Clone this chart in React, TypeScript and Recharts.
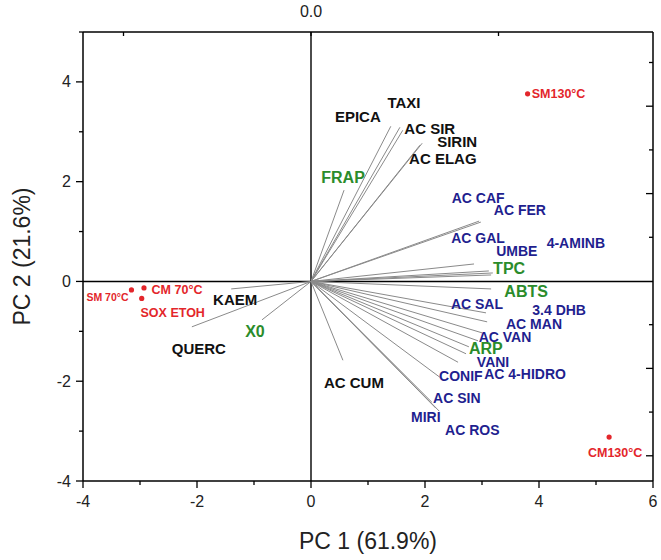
import React from 'react';
import { ScatterChart, Scatter, XAxis, YAxis, ReferenceLine, Label } from 'recharts';

const FONT = '"Liberation Sans", Arial, Helvetica, sans-serif';

// ---------- DATA ----------
// Variable loadings (drawn in PC1/PC2 units of the biplot)
const loadingNames = [
  'EPICA', 'TAXI', 'AC SIR', 'SIRIN', 'AC ELAG', 'FRAP', 'AC CAF', 'AC FER', 'AC GAL', 'UMBE',
  '4-AMINB', 'TPC', 'ABTS', 'AC SAL', '3.4 DHB', 'AC MAN', 'AC VAN', 'ARP', 'VANI', 'AC 4-HIDRO',
  'CONIF', 'AC SIN', 'MIRI', 'AC ROS', 'AC CUM', 'KAEM', 'QUERC', 'X0',
];
const loadingPC1 = [
  1.40, 1.56, 1.61, 1.95, 1.91, 0.58, 2.95, 2.98, 2.86, 3.12,
  3.19, 3.16, 3.16, 3.07, 3.09, 3.00, 2.93, 2.77, 2.72, 2.58,
  2.26, 2.12, 2.19, 2.25, 0.56, -1.40, -2.09, -0.86,
];
const loadingPC2 = [
  3.11, 3.09, 3.03, 2.77, 2.73, 1.83, 1.21, 1.19, 0.35, 0.21,
  0.17, 0.13, -0.15, -0.63, -0.81, -1.03, -1.19, -1.31, -1.45, -1.62,
  -1.92, -2.42, -2.54, -2.60, -1.58, -0.15, -0.91, -0.77,
];
const loadingGroup = [
  'flavonoid', 'flavonoid', 'flavonoid', 'flavonoid', 'flavonoid', 'assay', 'acid', 'acid', 'acid', 'acid',
  'acid', 'assay', 'assay', 'acid', 'acid', 'acid', 'acid', 'assay', 'acid', 'acid',
  'acid', 'acid', 'acid', 'acid', 'flavonoid', 'flavonoid', 'flavonoid', 'assay',
];

// Sample scores
const sampleNames = ['SM 70°C', 'CM 70°C', 'SOX ETOH', 'SM130°C', 'CM130°C'];
const samplePC1 = [-3.15, -2.93, -2.97, 3.80, 5.23];
const samplePC2 = [-0.17, -0.13, -0.34, 3.76, -3.12];

// Axis ticks
const xTicks = [-4, -3, -2, -1, 0, 1, 2, 3, 4, 5, 6];
const yTicks = [-4, -3, -2, -1, 0, 1, 2, 3, 4, 5];
const topTicks = [-1, 0, 1];
const rightTicks = [-4, -3, -2, -1, 0, 1, 2, 3, 4, 5];
const secondaryAnchor = [{ x: 0, y: 0 }];

// ---------- LAYOUT / STYLE (label placement offsets in px) ----------
const loadingLabelOffset: Record<string, [number, number]> = {
  'EPICA': [-33, -10], 'TAXI': [4, -25], 'AC SIR': [27, -2], 'SIRIN': [35, -2], 'AC ELAG': [23, 14],
  'FRAP': [-1, -13], 'AC CAF': [-1, -23], 'AC FER': [39, -12], 'AC GAL': [4, -26], 'UMBE': [28, -20],
  '4-AMINB': [83, -30], 'TPC': [18, -7], 'ABTS': [35, 2], 'AC SAL': [-9, -9], '3.4 DHB': [72, -12],
  'AC MAN': [52, -9], 'AC VAN': [27, -4], 'ARP': [17, 2], 'VANI': [27, 8], 'AC 4-HIDRO': [67, 12],
  'CONIF': [21, -1], 'AC SIN': [25, -4], 'MIRI': [-10, 9], 'AC ROS': [33, 19], 'AC CUM': [11, 22],
  'KAEM': [4, 11], 'QUERC': [7, 22], 'X0': [-7, 12],
};
const sampleLabelOffset: Record<string, [number, number, number]> = {
  'SM 70°C': [-24, 7, 10.5], 'CM 70°C': [33, 2, 12.5], 'SOX ETOH': [31, 14, 12.5],
  'SM130°C': [31, 0, 12.5], 'CM130°C': [6, 16, 12.5],
};
const groupStyle: Record<string, { color: string; size: number }> = {
  flavonoid: { color: '#111111', size: 15 },
  acid: { color: '#1f1f8f', size: 14 },
  assay: { color: '#2b8c2b', size: 16 },
};

const loadings = loadingNames.map((name, i) => ({
  name, x: loadingPC1[i], y: loadingPC2[i], group: loadingGroup[i],
}));
const samples = sampleNames.map((name, i) => ({ name, x: samplePC1[i], y: samplePC2[i] }));

// ---------- CUSTOM RENDERERS ----------
const XTick = (props: any) => {
  const { x, y, payload } = props;
  const v = payload.value;
  const major = v % 2 === 0;
  return (
    <g>
      <line x1={x} x2={x} y1={y} y2={y + (major ? 7 : 4)} stroke="#000" strokeWidth={1.3} />
      {major && (
        <text x={x} y={y + 26} textAnchor="middle" fontSize={16} fill="#222" fontFamily={FONT}>{v}</text>
      )}
    </g>
  );
};
const YTick = (props: any) => {
  const { x, y, payload } = props;
  const v = payload.value;
  const major = v % 2 === 0;
  return (
    <g>
      <line x1={x - (major ? 7 : 4)} x2={x} y1={y} y2={y} stroke="#000" strokeWidth={1.3} />
      {major && (
        <text x={x - 12} y={y} dy="0.35em" textAnchor="end" fontSize={16} fill="#222" fontFamily={FONT}>{v}</text>
      )}
    </g>
  );
};
const PLOT_TOP = 32;
const PLOT_RIGHT = 653;
const TopTick = (props: any) => {
  const { x, payload } = props;
  const v = payload.value;
  return (
    <g>
      <line x1={x} x2={x} y1={PLOT_TOP} y2={PLOT_TOP + 4} stroke="#000" strokeWidth={1.3} />
      {v === 0 && (
        <text x={x} y={PLOT_TOP - 15} textAnchor="middle" fontSize={16} fill="#222" fontFamily={FONT}>0.0</text>
      )}
    </g>
  );
};
const RightTick = (props: any) => {
  const { y, payload } = props;
  const v = payload.value;
  const major = v % 2 === 0;
  if (v === 0) return <g />;
  return <line x1={PLOT_RIGHT - (major ? 7 : 4)} x2={PLOT_RIGHT} y1={y} y2={y} stroke="#000" strokeWidth={1.3} />;
};

const NoShape = () => <g />;

const LoadingLabel = (props: any) => {
  const { cx, cy, payload } = props;
  const name = payload.name;
  const st = groupStyle[payload.group];
  const off = loadingLabelOffset[name] || [0, 0];
  return (
    <text x={cx + off[0]} y={cy + off[1]} dy="0.35em" textAnchor="middle" fontSize={st.size}
      fontWeight="bold" fill={st.color} fontFamily={FONT}>{name}</text>
  );
};

const SampleDot = (props: any) => {
  const { cx, cy, payload } = props;
  const off = sampleLabelOffset[payload.name] || [0, 0, 12];
  return (
    <g>
      <circle cx={cx} cy={cy} r={2.6} fill="#e3262b" />
      <text x={cx + off[0]} y={cy + off[1]} dy="0.35em" textAnchor="middle" fontSize={off[2]}
        fontWeight="bold" fill="#e3262b" fontFamily={FONT}>{payload.name}</text>
    </g>
  );
};

const XTitle = (props: any) => {
  const vb = props.viewBox || { x: 83, y: 481, width: 570, height: 79 };
  return (
    <text x={vb.x + vb.width / 2} y={vb.y + 68} textAnchor="middle" fontSize={23} fill="#222" fontFamily={FONT}>
      PC 1 (61.9%)
    </text>
  );
};
const YTitle = (props: any) => {
  const vb = props.viewBox || { x: 0, y: 32, width: 83, height: 449 };
  const cx = vb.x + 22;
  const cy = vb.y + vb.height / 2;
  return (
    <text x={cx} y={cy} dy="0.35em" textAnchor="middle" fontSize={23} fill="#222" fontFamily={FONT}
      transform={`rotate(-90, ${cx}, ${cy})`}>
      PC 2 (21.6%)
    </text>
  );
};

export default function App() {
  return (
    <div style={{ position: 'absolute', left: 0, top: 0, width: 661, height: 560, background: '#fff' }}>
      <ScatterChart width={661} height={560} margin={{ top: 32, right: 8, bottom: 0, left: 0 }}>
        <XAxis
          xAxisId={0} type="number" dataKey="x" domain={[-4, 6]} ticks={xTicks} interval={0}
          allowDataOverflow height={79} tickSize={0} tickMargin={0} tickLine={false}
          axisLine={{ stroke: '#000', strokeWidth: 1.5 }} tick={<XTick />}
        >
          <Label content={<XTitle />} />
        </XAxis>
        <YAxis
          yAxisId={0} type="number" dataKey="y" domain={[-4, 5]} ticks={yTicks} interval={0}
          allowDataOverflow width={83} tickSize={0} tickMargin={0} tickLine={false}
          axisLine={{ stroke: '#000', strokeWidth: 1.5 }} tick={<YTick />}
        >
          <Label content={<YTitle />} />
        </YAxis>
        <XAxis
          xAxisId="top" orientation="top" mirror type="number" dataKey="x" domain={[-1.216, 1.824]} ticks={topTicks}
          interval={0} allowDataOverflow height={2} tickSize={0} tickMargin={0} tickLine={false}
          axisLine={false} tick={<TopTick />}
        />
        <YAxis
          yAxisId="right" orientation="right" mirror type="number" dataKey="y" domain={[-4.577, 5.698]} ticks={rightTicks}
          interval={0} allowDataOverflow width={2} tickSize={0} tickMargin={0} tickLine={false}
          axisLine={false} tick={<RightTick />}
        />
        <ReferenceLine x={6} stroke="#000" strokeWidth={1.5} />
        <ReferenceLine y={5} stroke="#000" strokeWidth={1.5} />
        <ReferenceLine x={0} stroke="#000" strokeWidth={1.4} />
        <ReferenceLine y={0} stroke="#000" strokeWidth={1.4} />
        <Scatter
          xAxisId="top" yAxisId="right" data={secondaryAnchor} shape={<NoShape />}
          isAnimationActive={false} legendType="none"
        />
        {loadings.map((l) => (
          <Scatter
            key={l.name}
            data={[{ x: 0, y: 0 }, { x: l.x, y: l.y }]}
            line={{ stroke: '#8a8a8a', strokeWidth: 1 }}
            lineType="joint"
            shape={<NoShape />}
            isAnimationActive={false}
            legendType="none"
          />
        ))}
        <Scatter data={loadings} shape={<LoadingLabel />} isAnimationActive={false} legendType="none" />
        <Scatter data={samples} shape={<SampleDot />} isAnimationActive={false} legendType="none" />
      </ScatterChart>
    </div>
  );
}
